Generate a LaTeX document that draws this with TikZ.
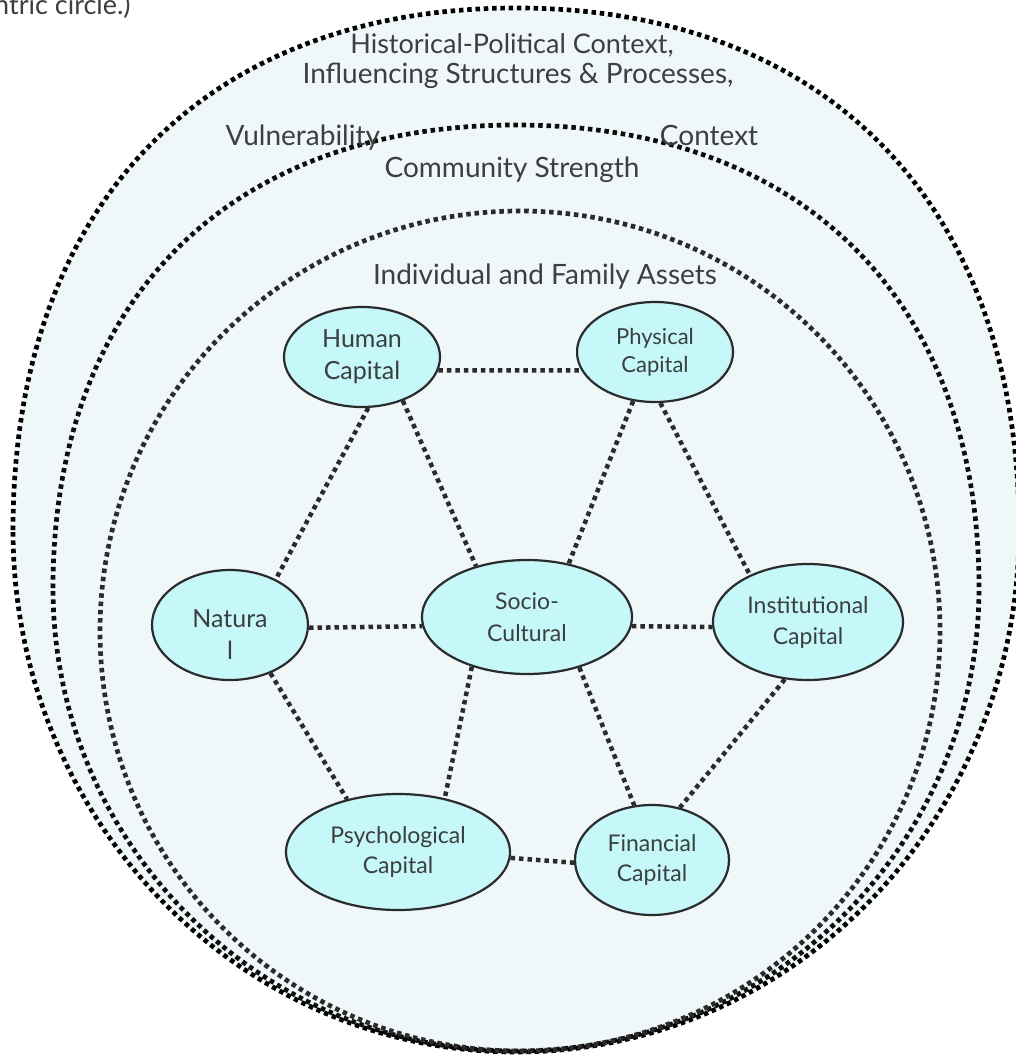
\documentclass[tikz,border=0pt]{standalone}
\usepackage{fontspec}
\setmainfont{Lato}
\usetikzlibrary{shapes.geometric}
\definecolor{bgblue}{HTML}{EFF7F9}
\definecolor{nodecyan}{HTML}{C6F7F9}
\definecolor{inkgray}{HTML}{2B2B2B}
\definecolor{txtgray}{HTML}{3A3F3F}
\tikzset{
  ring/.style={line width=4.7pt, dash pattern=on 4.5pt off 3.8pt},
  capnode/.style={ellipse, draw=inkgray, line width=2.2pt, fill=nodecyan, inner sep=0pt, align=center, text=txtgray},
  link/.style={draw=inkgray, line width=4.5pt, dash pattern=on 4.5pt off 4pt},
  ringlabel/.style={text=txtgray, font=\fontsize{28}{32}\selectfont, align=center, inner sep=0pt}
}
\begin{document}
\begin{tikzpicture}[x=1pt,y=-1pt]
\useasboundingbox (0,0) rectangle (1015,1057);
\fill[white] (0,0) rectangle (1015,1057);
% outer ring (flattened top)
\path[fill=bgblue, draw=black, ring]
  (13,530) .. controls (13,206.4) and (204.1,8) .. (516,8)
  .. controls (827.9,8) and (1019,206.4) .. (1019,530)
  .. controls (1019,818.3) and (793.8,1052) .. (516,1052)
  .. controls (238.2,1052) and (13,818.3) .. cycle;
% middle ring
\draw[ring, draw=black!95]
  (53,588) .. controls (53,301) and (229,125) .. (516,125)
  .. controls (803,125) and (979,301) .. (979,588)
  .. controls (979,843.7) and (771.7,1051) .. (516,1051)
  .. controls (260.3,1051) and (53,843.7) .. cycle;
% inner ring
\draw[ring, draw=inkgray] (520,631) ellipse [x radius=420, y radius=420];
% partial caption at top-left
\node[anchor=base west, inner sep=0pt, text=txtgray, font=\fontsize{27}{30}\selectfont] (cap) at (-6,15) {ntric circle.)};
% ring labels
\node[ringlabel, font=\fontsize{27}{32}\selectfont] (hist) at (512,45) {Historical-Political Context,};
\node[ringlabel] (infl) at (518,76) {Influencing Structures \& Processes,};
\node[ringlabel] (vuln) at (492,138) {Vulnerability\hspace{280pt}Context};
\node[ringlabel] (comm) at (512,170) {Community Strength};
\node[ringlabel] (indiv) at (545,277) {Individual and Family Assets};
% capital nodes
\node[capnode, minimum width=156pt, minimum height=100pt, font=\fontsize{25}{32}\selectfont] (H) at (362,357) {Human\\Capital};
\node[capnode, minimum width=156pt, minimum height=100pt, font=\fontsize{22}{28}\selectfont] (P) at (655,352) {Physical\\Capital};
\node[capnode, minimum width=156pt, minimum height=110pt, font=\fontsize{25}{32}\selectfont] (N) at (230,625) {\rule{0pt}{36pt}Natura\\l};
\node[capnode, minimum width=210pt, minimum height=114pt, font=\fontsize{23}{32}\selectfont] (S) at (527,617) {Socio-\\Cultural};
\node[capnode, minimum width=190pt, minimum height=116pt, font=\fontsize{23}{31}\selectfont] (I) at (808,622) {Institutional\\Capital};
\node[capnode, minimum width=224pt, minimum height=116pt, font=\fontsize{23}{30}\selectfont] (Y) at (398,852) {Psychological\\Capital};
\node[capnode, minimum width=154pt, minimum height=110pt, font=\fontsize{23}{30}\selectfont] (F) at (652,860) {Financial\\Capital};
% links
\draw[link] (H.-10) -- (P.194);
\draw[link] (H.-83) -- (N.45);
\draw[link] (H.-47) -- (S.135);
\draw[link] (P.-114) -- (S.52);
\draw[link] (P.-84) -- (I.141);
\draw[link] (N.-2) -- (S.185);
\draw[link] (S.-5) -- (I.183);
\draw[link] (N.-50) -- (Y.134);
\draw[link] (S.-138) -- (Y.49);
\draw[link] (S.-44) -- (F.108);
\draw[link] (I.-112) -- (F.62);
\draw[link] (Y.-3) -- (F.182);
\end{tikzpicture}
\end{document}
